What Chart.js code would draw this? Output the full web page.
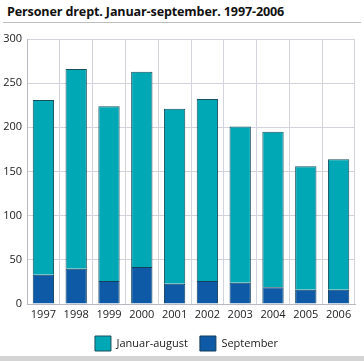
<!DOCTYPE html>
<html>
<head>
<meta charset="utf-8">
<script src="https://cdn.jsdelivr.net/npm/chart.js@4"></script>
<style>
    html, body { margin: 0; padding: 0; background: #fff; }
    #wrap { position: relative; width: 364px; height: 361px; overflow: hidden; font-family: 'Open Sans', sans-serif; }
    #title { position: absolute; left: 7px; top: 3px; font-size: 12.6px; font-weight: bold; color: #111; white-space: nowrap; letter-spacing: -0.15px; }
    #rule { position: absolute; left: 3px; right: 3px; top: 22px; height: 1px; background: #bdbdbd; }
    #foot { position: absolute; left: 0; right: 0; top: 356px; height: 5px; background: #d4d4d4; }
    #box { position: absolute; left: 0; top: 24px; width: 364px; height: 337px; }
</style>
</head>
<body>
<div id="wrap">
    <div id="title">Personer drept. Januar-september. 1997-2006</div>
    <div id="rule"></div>
    <div id="box"><canvas id="chart"></canvas></div>
    <div id="foot"></div>
</div>
<script>
const years = ['1997', '1998', '1999', '2000', '2001', '2002', '2003', '2004', '2005', '2006'];
const januarAugust = [198, 226, 198, 221, 198, 206, 177, 176, 140, 148];
const september = [33, 40, 26, 42, 23, 26, 24, 19, 16, 16];
const yTicks = [0, 50, 100, 150, 200, 250, 300];

const ctx = document.getElementById('chart').getContext('2d');

// nudge the legend so it centres under the plot area instead of the canvas
const legendShift = {
    id: 'legendShift',
    afterLayout(chart) {
        chart.legend.left += 9;
        chart.legend.right += 9;
    }
};

// September first so it sits at the bottom of each stack
new Chart(ctx, {
    type: 'bar',
    data: {
        labels: years,
        datasets: [
            {
                label: 'September',
                data: september,
                backgroundColor: '#0f5aa6',
                borderColor: '#123f5c',
                borderWidth: 1,
                categoryPercentage: 0.65,
                barPercentage: 1
            },
            {
                label: 'Januar-august',
                data: januarAugust,
                backgroundColor: '#00a8b5',
                borderColor: '#17505e',
                borderWidth: 1,
                categoryPercentage: 0.65,
                barPercentage: 1
            }
        ]
    },
    options: {
        responsive: true,
        maintainAspectRatio: false,
        animation: false,
        layout: { padding: { left: 0, right: 9, top: 15, bottom: 0 } },
        scales: {
            x: {
                stacked: true,
                grid: { color: '#d3d3dc', offset: true, drawTicks: false },
                border: { color: '#b8b8c0' },
                ticks: { color: '#222', font: { family: 'Open Sans', size: 11 }, padding: 4 },
                afterFit: s => { s.height = 20; }
            },
            y: {
                stacked: true,
                min: 0,
                max: 300,
                afterBuildTicks: s => { s.ticks = yTicks.map(v => ({ value: v })); },
                grid: { color: '#d3d3dc', drawTicks: false },
                border: { color: '#b8b8c0' },
                ticks: { color: '#222', font: { family: 'Open Sans', size: 11 }, padding: 5 },
                afterFit: s => { s.width = 27; }
            }
        },
        plugins: {
            legend: {
                position: 'bottom',
                reverse: true,
                labels: {
                    color: '#222',
                    font: { family: 'Open Sans', size: 11 },
                    boxWidth: 16,
                    boxHeight: 15,
                    padding: 12,
                    useBorderRadius: false
                }
            },
            tooltip: { enabled: false }
        }
    },
    plugins: [legendShift]
});
</script>
</body>
</html>
